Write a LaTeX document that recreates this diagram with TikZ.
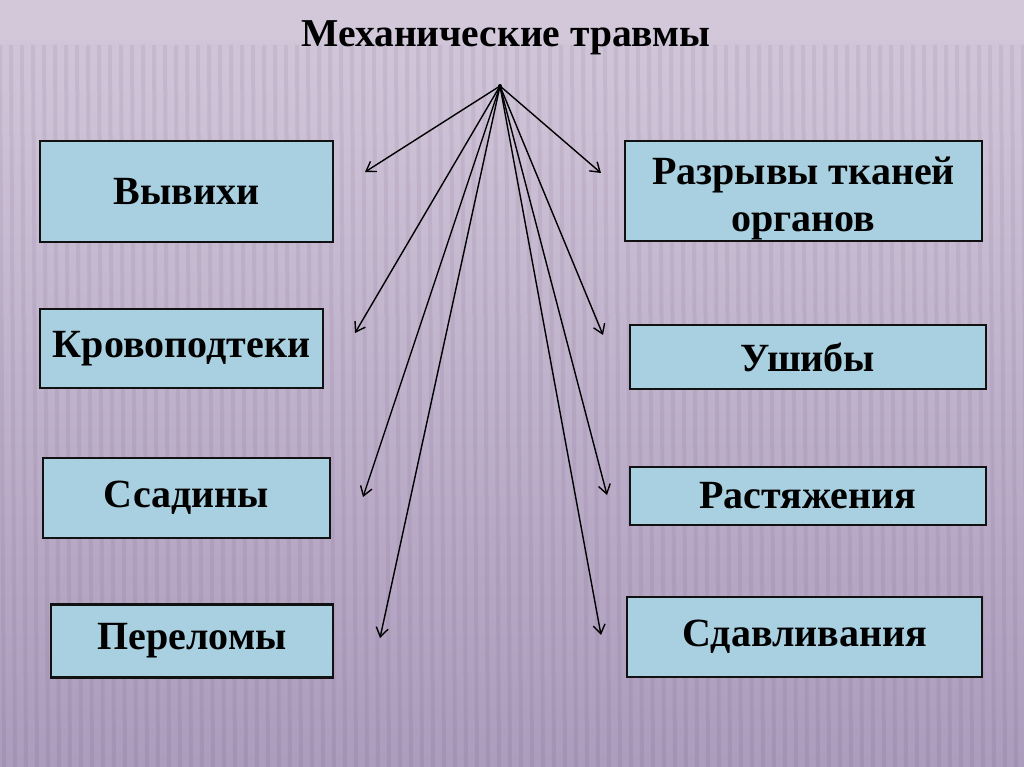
\documentclass[tikz,border=0pt]{standalone}
\usepackage{fontspec}
\setmainfont{Liberation Serif}
\usetikzlibrary{arrows.meta,calc}
\definecolor{bgTop}{HTML}{D2C8DA}
\definecolor{bgBottom}{HTML}{AC9CBD}
\definecolor{boxBlue}{HTML}{A8D0E0}
\definecolor{edgeDark}{HTML}{111111}
\tikzset{
  injury box/.style={draw=edgeDark,fill=boxBlue,line width=2.2pt,
    inner sep=0pt,align=center,font=\fontsize{40}{47}\selectfont\bfseries},
  spread arrow/.style={-{Straight Barb[length=9pt,width=12pt]},draw=black,line width=1.4pt}
}
\begin{document}
\begin{tikzpicture}[x=1pt,y=-1pt]
  \useasboundingbox (0,0) rectangle (1024,767);
  % background
  \shade[top color=bgTop,bottom color=bgBottom] (0,0) rectangle (1024,767);
  \fill[bgTop] (0,0) rectangle (1024,40);
  \foreach \sx in {0,11,...,1024}
    \draw[black!60!violet,opacity=0.06,line width=4pt] (\sx,45) -- (\sx+4,767);
  \node[font=\fontsize{39.5}{44}\selectfont\bfseries] (title) at (506,38) {Механические травмы};
  % left column
  \node[injury box,minimum width=293pt,minimum height=101pt] (vyvikhi) at (186.5,191.5) {Вывихи};
  \node[injury box,minimum width=283pt,minimum height=79pt] (krovo) at (181.5,348.5) {Кровоподтеки};
  \node[injury box,minimum width=287pt,minimum height=80pt] (ssadiny) at (186.5,498) {Ссадины};
  \node[injury box,minimum width=282pt,minimum height=73pt] (perelomy) at (192,641) {Переломы};
  % right column
  \node[injury box,minimum width=357pt,minimum height=100pt] (razryvy) at (803.5,191)
    {\rule{0pt}{42pt}Разрывы тканей\\[0pt]органов};
  \node[injury box,minimum width=356pt,minimum height=64pt] (ushiby) at (808,357) {Ушибы};
  \node[injury box,minimum width=356pt,minimum height=58pt] (rastyazh) at (808,496) {Растяжения};
  \node[injury box,minimum width=355pt,minimum height=80pt] (sdavl) at (804.5,637) {Сдавливания};
  % arrows from one point
  \coordinate (hub) at (500,86);
  \fill (hub) circle (2pt);
  \coordinate (toVyvikhi) at (365,172);
  \coordinate (toRazryvy) at (601,173);
  \coordinate (toKrovo) at (355,333);
  \coordinate (toUshiby) at (603,335);
  \coordinate (toSsadiny) at (363,497);
  \coordinate (toRastyazh) at (607,495);
  \coordinate (toPerelomy) at (380,638);
  \coordinate (toSdavl) at (601,635);
  \foreach \tgt in {toVyvikhi,toRazryvy,toKrovo,toUshiby,toSsadiny,toRastyazh,toPerelomy,toSdavl}
    \draw[spread arrow] (hub) -- (\tgt);
\end{tikzpicture}
\end{document}
